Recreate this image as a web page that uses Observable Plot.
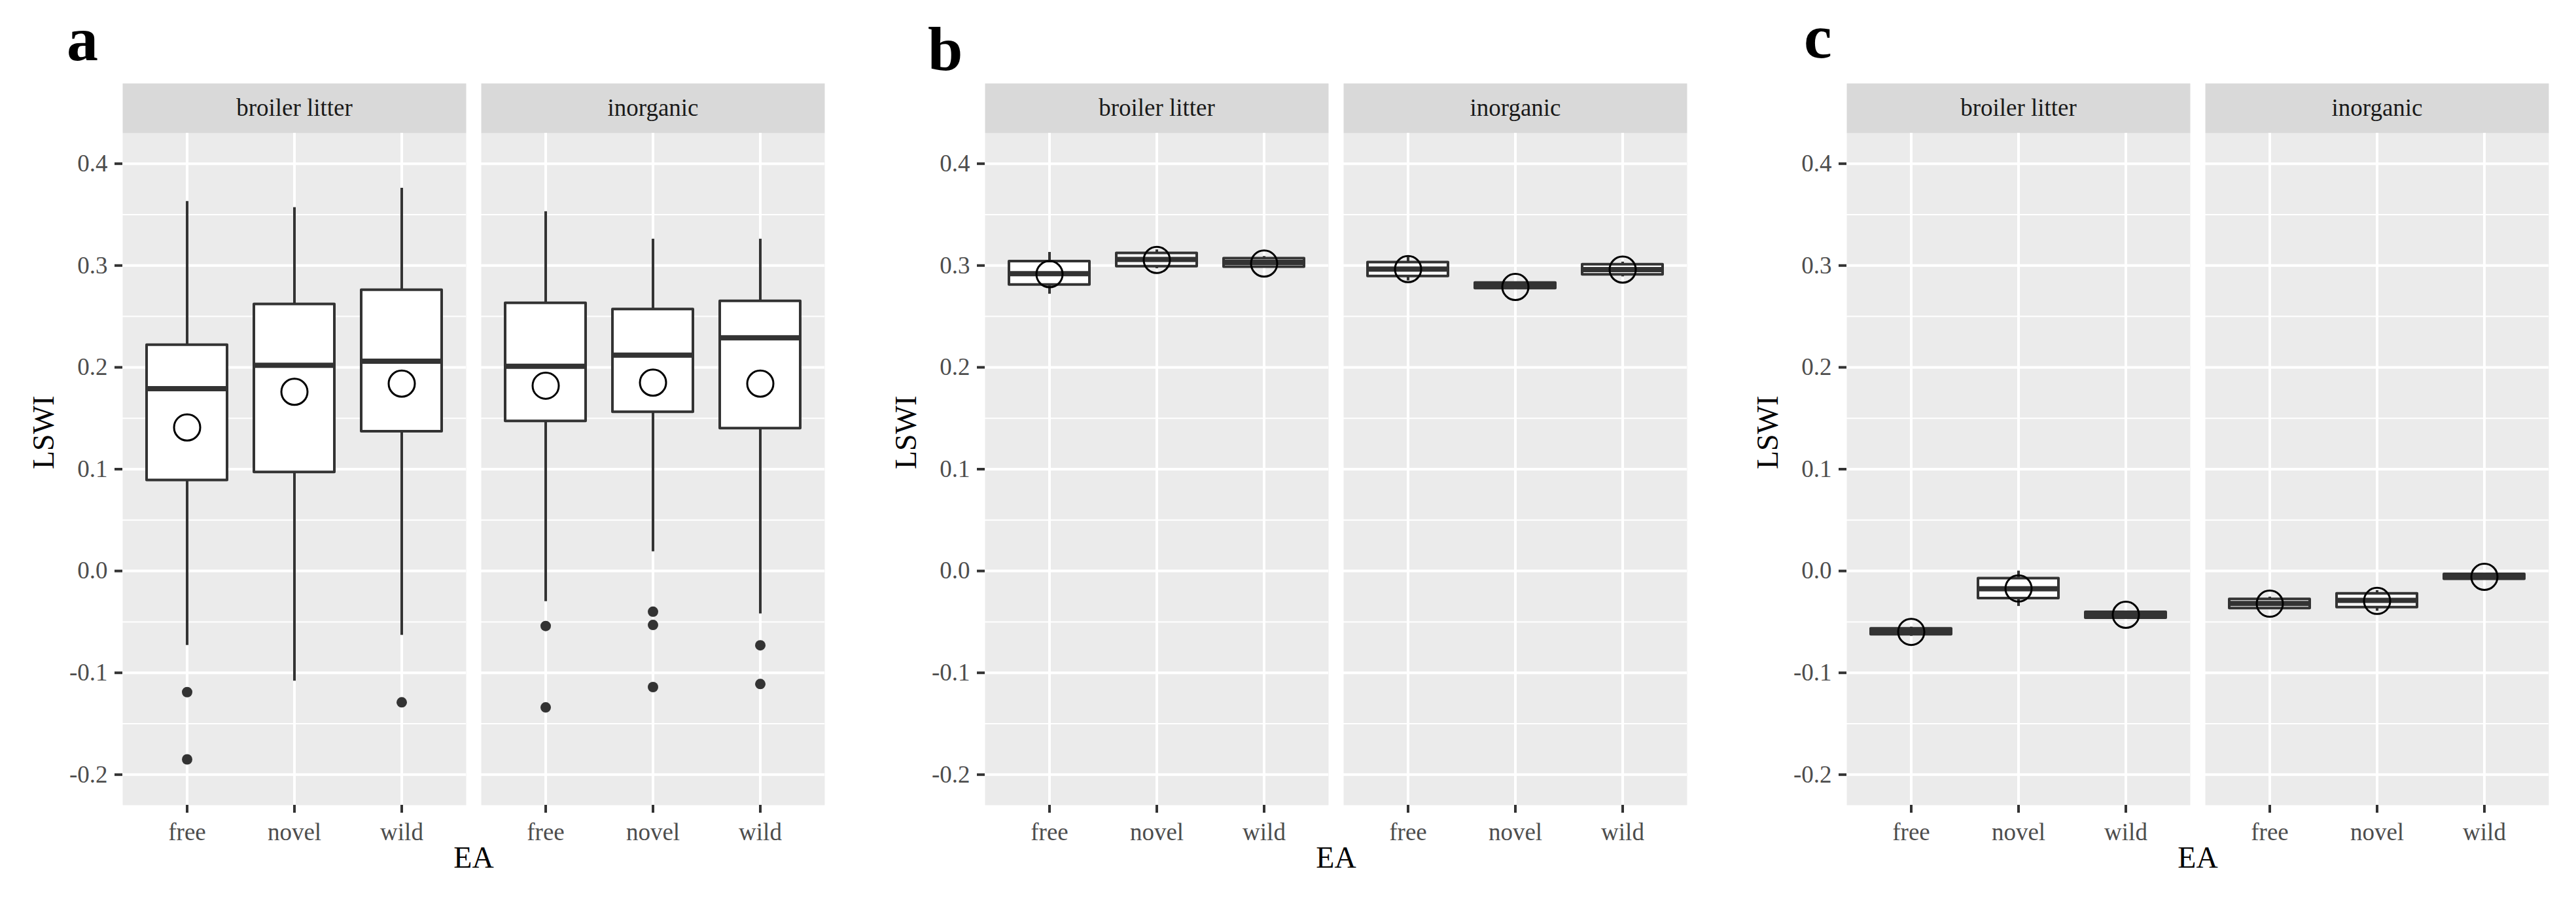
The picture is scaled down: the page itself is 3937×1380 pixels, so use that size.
<!DOCTYPE html>
<html><head><meta charset="utf-8">
<script src="https://cdn.jsdelivr.net/npm/d3@7"></script>
<script src="https://cdn.jsdelivr.net/npm/@observablehq/plot@0.6"></script>
<style>
html,body{margin:0;padding:0;background:#fff;}
#root{position:relative;width:3937px;height:1380px;overflow:hidden;background:#fff;}
.panel{position:absolute;top:0;}
.letter{position:absolute;font-family:"Liberation Serif","Times New Roman",serif;font-weight:bold;font-size:96px;line-height:96px;color:#000;}
</style></head>
<body><div id="root"></div>
<script>
// ---- categories ----
const fertilizers = ["broiler litter", "inorganic"];
const eaLevels = ["free", "novel", "wild"];
const groupFert = ["broiler litter", "broiler litter", "broiler litter", "inorganic", "inorganic", "inorganic"];
const groupEA = ["free", "novel", "wild", "free", "novel", "wild"];
const yTicks = [-0.2, -0.1, 0.0, 0.1, 0.2, 0.3, 0.4];
const yMinor = [-0.15, -0.05, 0.05, 0.15, 0.25, 0.35];
const yTitle = "LSWI";
const xTitle = "EA";
const panelLetters = ["a", "b", "c"];

// ---- panel a ----
const aLower  = [-0.073, -0.108, -0.063, -0.030,  0.019, -0.042];
const aQ1     = [ 0.089,  0.097,  0.137,  0.147,  0.156,  0.140];
const aMedian = [ 0.179,  0.202,  0.206,  0.201,  0.212,  0.229];
const aQ3     = [ 0.222,  0.262,  0.276,  0.263,  0.257,  0.265];
const aUpper  = [ 0.363,  0.357,  0.376,  0.353,  0.326,  0.326];
const aMean   = [ 0.141,  0.176,  0.184,  0.182,  0.185,  0.184];
const aOutFert  = ["broiler litter", "broiler litter", "broiler litter", "inorganic", "inorganic", "inorganic", "inorganic", "inorganic", "inorganic", "inorganic"];
const aOutEA    = ["free", "free", "wild", "free", "free", "novel", "novel", "novel", "wild", "wild"];
const aOutValue = [-0.119, -0.185, -0.129, -0.054, -0.134, -0.040, -0.053, -0.114, -0.073, -0.111];

// ---- panel b ----
const bLower  = [0.272, 0.297, 0.298, 0.285, 0.2775, 0.289];
const bQ1     = [0.281, 0.299, 0.2985, 0.2895, 0.2775, 0.291];
const bMedian = [0.292, 0.306, 0.303, 0.2965, 0.280, 0.296];
const bQ3     = [0.304, 0.312, 0.307, 0.303, 0.283, 0.301];
const bUpper  = [0.313, 0.3155, 0.309, 0.308, 0.283, 0.3035];
const bMean   = [0.2915, 0.3055, 0.302, 0.2965, 0.279, 0.296];

// ---- panel c ----
const cLower  = [-0.064, -0.0347, -0.0465, -0.0379, -0.0394, -0.0081];
const cQ1     = [-0.0625, -0.027, -0.0462, -0.0368, -0.0357, -0.008];
const cMedian = [-0.0595, -0.0174, -0.043, -0.0319, -0.0289, -0.0055];
const cQ3     = [-0.0567, -0.0074, -0.0404, -0.0277, -0.0223, -0.0032];
const cUpper  = [-0.055, 0.0, -0.040, -0.0255, -0.0191, -0.0032];
const cMean   = [-0.0598, -0.0172, -0.043, -0.0321, -0.0294, -0.0057];

function buildStats(lo, q1, med, q3, hi, mean) {
  return groupEA.map((ea, i) => ({fert: groupFert[i], ea, lo: lo[i], q1: q1[i], med: med[i], q3: q3[i], hi: hi[i], mean: mean[i]}));
}
function buildOutliers(f, e, v) {
  return v.map((val, i) => ({fert: f[i], ea: e[i], value: val}));
}

const FONT = '"Liberation Serif","Times New Roman",serif';
const DARK = "#333333";

function makePanel(stats, outliers) {
  return Plot.plot({
    width: 1300, height: 1380,
    marginLeft: 187, marginRight: 40, marginTop: 203, marginBottom: 150,
    style: {fontFamily: FONT, background: "transparent", overflow: "visible"},
    fx: {domain: fertilizers, paddingInner: 23 / 548, paddingOuter: 0, axis: null, label: null},
    x: {domain: eaLevels, paddingInner: 0.25, paddingOuter: 0.225, label: null},
    y: {domain: [-0.23, 0.43], label: null},
    marks: [
      Plot.frame({fill: "#EBEBEB", stroke: "none"}),
      Plot.frame({fill: "#D9D9D9", stroke: "none", insetTop: -76, insetBottom: 1027}),
      Plot.ruleY(yMinor, {stroke: "#FFFFFF", strokeWidth: 2}),
      Plot.ruleY(yTicks, {stroke: "#FFFFFF", strokeWidth: 4}),
      Plot.ruleX(eaLevels, {stroke: "#FFFFFF", strokeWidth: 4}),
      Plot.axisY(yTicks, {tickSize: 12, tickPadding: 11, tickFormat: d => d.toFixed(1), fontSize: 37, fill: "#4D4D4D", stroke: DARK, strokeWidth: 4, label: null}),
      Plot.axisX({tickSize: 12, tickPadding: 15, fontSize: 37, fill: "#4D4D4D", stroke: DARK, strokeWidth: 4, label: null}),
      Plot.text(fertilizers, {fx: d => d, text: d => d, frameAnchor: "top", dy: -38, fontSize: 37, fill: "#1A1A1A", lineAnchor: "middle"}),
      Plot.text([yTitle], {fx: () => fertilizers[0], text: d => d, frameAnchor: "left", dx: -120, rotate: -90, fontSize: 46, fill: "#000"}),
      Plot.text([xTitle], {fx: () => fertilizers[0], text: d => d, frameAnchor: "bottom-right", dx: 11.5, dy: 95, fontSize: 46, fill: "#000", textAnchor: "middle"}),
      Plot.ruleX(stats, {fx: "fert", x: "ea", y1: "lo", y2: "q1", stroke: DARK, strokeWidth: 4}),
      Plot.ruleX(stats, {fx: "fert", x: "ea", y1: "q3", y2: "hi", stroke: DARK, strokeWidth: 4}),
      Plot.barY(stats, {fx: "fert", x: "ea", y1: "q1", y2: "q3", fill: "#FFFFFF", stroke: DARK, strokeWidth: 4, strokeLinejoin: "round"}),
      Plot.tickY(stats, {fx: "fert", x: "ea", y: "med", stroke: DARK, strokeWidth: 8}),
      Plot.dot(outliers, {fx: "fert", x: "ea", y: "value", r: 8, fill: DARK, stroke: "none"}),
      Plot.dot(stats, {fx: "fert", x: "ea", y: "mean", r: 20, fill: "none", stroke: "#000", strokeWidth: 3})
    ]
  });
}

const panels = [
  makePanel(buildStats(aLower, aQ1, aMedian, aQ3, aUpper, aMean), buildOutliers(aOutFert, aOutEA, aOutValue)),
  makePanel(buildStats(bLower, bQ1, bMedian, bQ3, bUpper, bMean), []),
  makePanel(buildStats(cLower, cQ1, cMedian, cQ3, cUpper, cMean), [])
];
const panelLeft = [0, 1318, 2635];
const letterLeft = [102, 1418, 2757];
const letterTop = [12, 27, 8];
const root = document.getElementById("root");
panels.forEach((svg, i) => {
  const wrap = document.createElement("div");
  wrap.className = "panel";
  wrap.style.left = panelLeft[i] + "px";
  wrap.appendChild(svg);
  root.appendChild(wrap);
  const L = document.createElement("div");
  L.className = "letter";
  L.style.left = letterLeft[i] + "px";
  L.style.top = letterTop[i] + "px";
  L.textContent = panelLetters[i];
  root.appendChild(L);
});
</script>
</body></html>
